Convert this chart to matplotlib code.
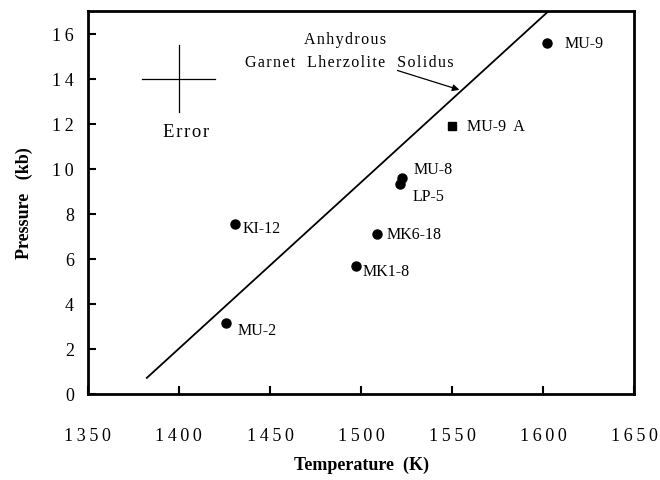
import numpy as np
import matplotlib.pyplot as plt

plt.rcParams["font.family"] = ["Liberation Serif", "DejaVu Serif"]

# sample data
names = ["MU-9", "MU-8", "LP-5", "MK6-18", "KI-12", "MK1-8", "MU-2"]
temp = [1602, 1522.5, 1521.5, 1509, 1431, 1497, 1426]
pres = [15.6, 9.6, 9.33, 7.1, 7.55, 5.7, 3.15]
offsets = [(13, 0), (8, 6), (9, -9), (6.5, 0), (5, -3), (5, -4), (8, -5)]

sq_name = "MU-9  A"
sq_temp = [1550]
sq_pres = [11.9]

solidus_t = [1382.4, 1603]
solidus_p = [0.71, 17.0]

err_t, err_p = 1400, 14.0
err_dt, err_dp = 20, 1.5

xticks = [1350, 1400, 1450, 1500, 1550, 1600, 1650]
yticks = [0, 2, 4, 6, 8, 10, 12, 14, 16]


def spaced(v, sep="\u2009"):
    return sep.join(str(v))


fig = plt.figure(figsize=(6.6, 4.81), dpi=100)
ax = fig.add_axes([0.133, 0.179, 0.828, 0.796])

ax.plot(solidus_t, solidus_p, color="black", lw=1.3)
ax.plot(temp, pres, "o", color="black", ms=6.5, ls="none")
ax.plot(sq_temp, sq_pres, "s", color="black", ms=6, ls="none")

for n, t, p, off in zip(names, temp, pres, offsets):
    ax.annotate(n, (t, p), xytext=off, textcoords="offset points",
                ha="left", va="center", fontsize=11.5)
ax.annotate(sq_name, (sq_temp[0], sq_pres[0]), xytext=(11, 0),
            textcoords="offset points", ha="left", va="center", fontsize=11.5)

# error bars
ax.plot([err_t - err_dt, err_t + err_dt], [err_p, err_p], color="black", lw=0.9)
ax.plot([err_t, err_t], [err_p - err_dp, err_p + err_dp], color="black", lw=0.9)
ax.text(1404, 11.65, spaced("Error", "\u200a"), ha="center", va="center",
        fontsize=13.5)

ax.text(1491, 15.75, spaced("Anhydrous", "\u200a"), ha="center", va="center",
        fontsize=11.5)
ax.text(1493.5, 14.75, "   ".join(spaced(w, "\u200a") for w in
                                  ["Garnet", "Lherzolite", "Solidus"]),
        ha="center", va="center", fontsize=11.5)
ax.annotate("", xy=(1554, 13.5), xytext=(1520, 14.36),
            arrowprops=dict(arrowstyle="-|>", color="black", lw=0.9,
                            mutation_scale=10, shrinkA=0, shrinkB=0))

ax.set_xlim(1350, 1650)
ax.set_ylim(0, 17)
ax.set_xticks(xticks)
ax.set_yticks(yticks)
ax.set_xticklabels([spaced(v) for v in xticks])
ax.set_yticklabels([spaced(v) for v in yticks])
ax.tick_params(axis="x", direction="in", length=6, width=1.5, pad=24,
               labelsize=13)
ax.tick_params(axis="y", direction="in", length=6, width=1.5, pad=10,
               labelsize=13)
for s in ax.spines.values():
    s.set_linewidth(2)

ax.set_xlabel("Temperature  (K)", fontweight="bold", fontsize=13, labelpad=8)
ax.set_ylabel("Pressure   (kb)", fontweight="bold", fontsize=13, labelpad=14)

fig.savefig("out.png", dpi=100)
